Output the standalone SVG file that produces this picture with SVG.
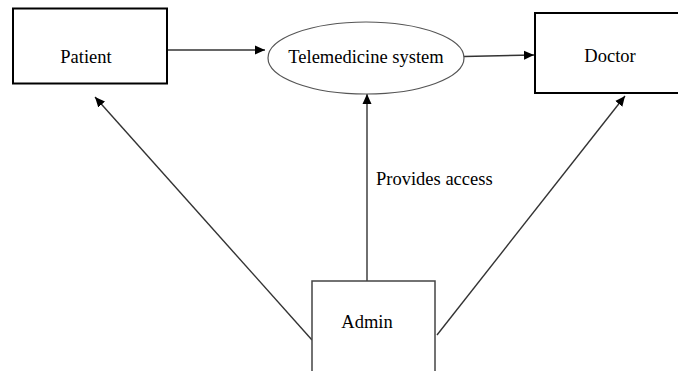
<svg xmlns="http://www.w3.org/2000/svg" width="678" height="371" viewBox="0 0 678 371">
<defs>
<style>
.box{fill:#fff;stroke:#000;stroke-width:2}
.abox{fill:#fff;stroke:#444;stroke-width:1.5}
.ell{fill:#fff;stroke:#555;stroke-width:1.2}
.lbl{font-family:"Liberation Serif","Times New Roman",serif;font-size:18.5px;fill:#000}
.c{stroke:#333;stroke-width:1.4;fill:none}
</style>
<marker id="ah" viewBox="0 0 10 10" refX="10" refY="5" markerWidth="10" markerHeight="10" markerUnits="userSpaceOnUse" orient="auto">
<path d="M0,0.5 L10,5 L0,9.5 z" fill="#000"/>
</marker>
</defs>
<rect width="678" height="371" fill="#fff"/>
<g id="connectors">
<line class="c" x1="168" y1="50" x2="265" y2="50" marker-end="url(#ah)"/>
<line class="c" x1="464" y1="56.5" x2="534" y2="55" marker-end="url(#ah)"/>
<line class="c" x1="367" y1="281" x2="367" y2="94" marker-end="url(#ah)"/>
<line class="c" x1="312" y1="340" x2="95" y2="97" marker-end="url(#ah)"/>
<line class="c" x1="437" y1="335" x2="625" y2="96" marker-end="url(#ah)"/>
<text class="lbl" x="376" y="185">Provides access</text>
</g>
<g id="patient">
<rect class="box" x="13" y="8.5" width="154" height="75"/>
<text class="lbl" x="86" y="63" text-anchor="middle">Patient</text>
</g>
<g id="telemedicine">
<ellipse class="ell" cx="366" cy="58" rx="98" ry="36"/>
<text class="lbl" x="366" y="63" text-anchor="middle">Telemedicine system</text>
</g>
<g id="doctor">
<rect class="box" x="535" y="13" width="160" height="80"/>
<text class="lbl" x="610" y="62" text-anchor="middle">Doctor</text>
</g>
<g id="admin">
<rect class="abox" x="312" y="281" width="123" height="100"/>
<text class="lbl" x="367" y="328" text-anchor="middle">Admin</text>
</g>
</svg>
